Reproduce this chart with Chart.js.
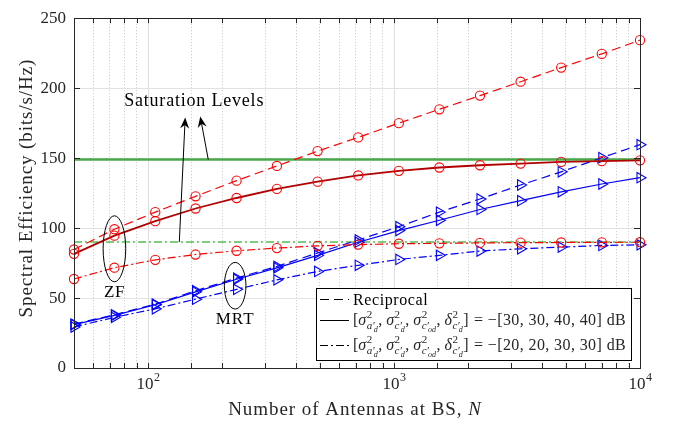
<!DOCTYPE html>
<html>
<head>
<meta charset="utf-8">
<script src="https://cdn.jsdelivr.net/npm/chart.js@4.4.0/dist/chart.umd.min.js"></script>
<style>
  html, body { margin: 0; padding: 0; background: #fff; }
  #wrap { width: 675px; height: 424px; }
</style>
</head>
<body>
<div id="wrap"><canvas id="myChart"></canvas></div>
<script>
// number of BS antennas (log spaced)
const antennas = [50, 73, 107, 156, 229, 334, 489, 715, 1046, 1529, 2236, 3270, 4782, 6993, 10000];

// ZF curves (red, circles)
const zfRecip = [84.7, 99.2, 111.4, 122.7, 133.9, 144.4, 155.0, 164.8, 175.0, 184.9, 194.7, 204.6, 214.7, 224.5, 234.3];
const zf30 = [81.6, 94.6, 104.9, 114.0, 121.5, 128.0, 133.2, 137.6, 140.9, 143.3, 144.9, 146.1, 147.3, 147.8, 148.4];
const zf20 = [63.6, 71.7, 77.3, 81.1, 83.8, 85.7, 87.3, 88.2, 88.8, 89.1, 89.4, 89.6, 89.7, 89.8, 89.9];

// MRT curves (blue, triangles)
const mrtRecip = [31.4, 38.0, 45.6, 55.2, 64.2, 72.6, 82.2, 91.5, 101.0, 111.4, 120.8, 130.8, 140.2, 150.3, 159.6];
const mrt30 = [31.0, 37.6, 45.2, 54.4, 63.4, 71.6, 80.5, 89.9, 98.2, 105.6, 113.3, 119.6, 125.9, 131.5, 136.0];
const mrt20 = [29.3, 36.2, 42.3, 49.2, 56.2, 63.0, 69.0, 73.4, 77.6, 80.5, 83.6, 85.2, 86.4, 87.6, 88.0];

// saturation levels
const satRange = [50, 10000];
const satHigh = [149, 149];
const satLow = [90, 90];

const xLabelTicks = [100, 1000, 10000];
const legendVals = ['30, 30, 40, 40', '20, 20, 30, 30'];

const fontFam = '"Liberation Serif", "Times New Roman", serif';
const ink = '#262626';

function pts(xs, ys) {
    return xs.map((x, i) => ({ x: x, y: ys[i] }));
}

function series(label, ys, line, marker, dash, style, width) {
    return {
        label: label,
        data: pts(antennas, ys),
        borderColor: line,
        borderWidth: width || 1.2,
        borderDash: dash,
        pointStyle: style,
        pointRadius: style === 'circle' ? 4.6 : 6,
        pointRotation: style === 'triangle' ? 90 : 0,
        pointBorderColor: marker,
        pointBackgroundColor: 'rgba(0,0,0,0)',
        pointBorderWidth: 1.1,
        fill: false,
        tension: 0,
        clip: false,
    };
}

const dashed = [9, 5];
const dashDot = [8, 3, 2, 3];

const datasets = [
    series('ZF reciprocal', zfRecip, '#ff0000', '#ff0000', dashed, 'circle'),
    series('ZF -30', zf30, '#b00000', '#ff0000', [], 'circle', 1.8),
    series('ZF -20', zf20, '#ff0000', '#ff0000', dashDot, 'circle'),
    series('MRT reciprocal', mrtRecip, '#0000ff', '#0000ff', dashed, 'triangle'),
    series('MRT -30', mrt30, '#0000ff', '#0000ff', [], 'triangle'),
    series('MRT -20', mrt20, '#0000ff', '#0000ff', dashDot, 'triangle'),
    {
        label: 'sat high', data: pts(satRange, satHigh), borderColor: '#4aa84a', borderWidth: 2.5,
        pointRadius: 0, fill: false,
    },
    {
        label: 'sat low', data: pts(satRange, satLow), borderColor: '#009a00', borderWidth: 1.1,
        borderDash: dashDot, pointRadius: 0, fill: false,
    },
];

function isPow10(v) {
    const l = Math.log10(v);
    return Math.abs(l - Math.round(l)) < 1e-9;
}

function txt(ctx, s, x, y, size, o) {
    o = o || {};
    ctx.save();
    ctx.font = (o.italic ? 'italic ' : '') + size + 'px ' + fontFam;
    ctx.letterSpacing = (o.ls || 0) + 'px';
    ctx.textAlign = o.align || 'left';
    ctx.textBaseline = o.base || 'alphabetic';
    ctx.fillStyle = o.color || ink;
    ctx.fillText(s, x, y);
    const w = ctx.measureText(s).width;
    ctx.restore();
    return w;
}

function arrow(ctx, x0, y0, x1, y1) {
    const a = Math.atan2(y1 - y0, x1 - x0);
    const L = 11, W = 4.5, N = 3.5;
    ctx.beginPath();
    ctx.moveTo(x0, y0);
    ctx.lineTo(x1 - Math.cos(a) * N, y1 - Math.sin(a) * N);
    ctx.stroke();
    const c = Math.cos(a), s = Math.sin(a);
    ctx.beginPath();
    ctx.moveTo(x1, y1);
    ctx.lineTo(x1 - c * L + s * W, y1 - s * L - c * W);
    ctx.lineTo(x1 - c * (L - N), y1 - s * (L - N));
    ctx.lineTo(x1 - c * L - s * W, y1 - s * L + c * W);
    ctx.closePath();
    ctx.fill();
}

const terms = [
    { b: 'σ', sub: 'a′', ss: 'd' },
    { b: 'σ', sub: 'c′', ss: 'd' },
    { b: 'σ', sub: 'c′', ss: 'od' },
    { b: 'δ', sub: 'c′', ss: 'd' },
];

function mathRow(ctx, x, y, vals) {
    const S = 16;
    let cx = x;
    cx += txt(ctx, '[', cx, y, S);
    terms.forEach((t, k) => {
        cx += txt(ctx, t.b, cx, y, S, { italic: true }) + 0.5;
        const w1 = txt(ctx, '2', cx, y - 7, 11);
        const w2 = txt(ctx, t.sub, cx, y + 4, 11, { italic: true });
        const w3 = txt(ctx, t.ss, cx + w2 - 1, y + 7, 8, { italic: true });
        cx += Math.max(w1, w2 - 1 + w3) + 0.5;
        if (k < terms.length - 1) cx += txt(ctx, ', ', cx, y, S);
    });
    cx += txt(ctx, ']', cx, y, S);
    txt(ctx, ' = −[' + vals + '] dB', cx + 1, y, S, { ls: 0.4 });
}

const decor = {
    id: 'decor',
    afterDatasetsDraw(chart) {
        const ctx = chart.ctx;
        const xs = chart.scales.x, ys = chart.scales.y;
        const X = v => xs.getPixelForValue(v), Y = v => ys.getPixelForValue(v);
        ctx.save();
        ctx.strokeStyle = '#000';
        ctx.fillStyle = '#000';
        ctx.lineWidth = 1;
        // ellipses
        ctx.beginPath();
        ctx.ellipse(X(73), Y(85.2), 11.3, 33, 0, 0, Math.PI * 2);
        ctx.stroke();
        ctx.beginPath();
        ctx.ellipse(X(226), Y(58.8), 10.8, 23.3, 0, 0, Math.PI * 2);
        ctx.stroke();
        txt(ctx, 'ZF', X(73), Y(53.6), 17, { align: 'center', base: 'middle', ls: 0.6, color: '#000' });
        txt(ctx, 'MRT', X(226), Y(34.9), 17, { align: 'center', base: 'middle', ls: 1, color: '#000' });
        // saturation arrows
        arrow(ctx, X(134), Y(90), X(141.6), Y(179));
        arrow(ctx, X(175.7), Y(149), X(163), Y(179.8));
        txt(ctx, 'Saturation Levels', X(154), Y(190.5), 18, { align: 'center', base: 'middle', ls: 0.8, color: '#000' });
        ctx.restore();
    },
    afterDraw(chart) {
        const ctx = chart.ctx;
        const a = chart.chartArea;
        const xs = chart.scales.x, ys = chart.scales.y;
        ctx.save();
        ctx.strokeStyle = ink;
        ctx.lineWidth = 1;
        // inward tick marks
        ctx.beginPath();
        xs.ticks.forEach(t => {
            const p = Math.round(xs.getPixelForValue(t.value)) + 0.5;
            ctx.moveTo(p, a.bottom); ctx.lineTo(p, a.bottom - 5);
            ctx.moveTo(p, a.top); ctx.lineTo(p, a.top + 5);
        });
        ys.ticks.forEach(t => {
            const p = Math.round(ys.getPixelForValue(t.value)) + 0.5;
            ctx.moveTo(a.left, p); ctx.lineTo(a.left + 6, p);
            ctx.moveTo(a.right, p); ctx.lineTo(a.right - 6, p);
        });
        ctx.stroke();
        // box
        ctx.strokeRect(Math.round(a.left) + 0.5, Math.round(a.top) + 0.5,
            Math.round(a.right - a.left), Math.round(a.bottom - a.top));

        // x tick labels with superscripts
        xLabelTicks.forEach(v => {
            const p = xs.getPixelForValue(v);
            const e = String(Math.round(Math.log10(v)));
            ctx.font = '17px ' + fontFam;
            const w0 = ctx.measureText('10').width;
            ctx.font = '12px ' + fontFam;
            const w1 = ctx.measureText(e).width;
            const x0 = p - (w0 + w1) / 2;
            txt(ctx, '10', x0, 389, 17);
            txt(ctx, e, x0 + w0 + 0.5, 381, 12);
        });

        // axis titles
        ctx.font = '19px ' + fontFam;
        ctx.letterSpacing = '0.95px';
        const tA = 'Number of Antennas at BS, ';
        const wA = ctx.measureText(tA).width;
        ctx.font = 'italic 19px ' + fontFam;
        const wB = ctx.measureText('N').width;
        ctx.letterSpacing = '0px';
        const cx = (a.left + a.right) / 2 - 2;
        txt(ctx, tA, cx - (wA + wB) / 2, 415, 19, { ls: 0.95 });
        txt(ctx, 'N', cx - (wA + wB) / 2 + wA, 415, 19, { italic: true });

        ctx.save();
        ctx.translate(31.5, (a.top + a.bottom) / 2 - 5);
        ctx.rotate(-Math.PI / 2);
        txt(ctx, 'Spectral Efficiency (bits/s/Hz)', 0, 0, 19, { align: 'center', ls: 0.9 });
        ctx.restore();

        // legend
        const lx = 316, ly = 288, lw = 315, lh = 72;
        ctx.fillStyle = '#fff';
        ctx.fillRect(lx, ly, lw, lh);
        ctx.strokeStyle = '#000';
        ctx.strokeRect(lx + 0.5, ly + 0.5, lw, lh);
        const rows = [299.5, 320.5, 345.5];
        const styles = [dashed, [], dashDot];
        styles.forEach((d, i) => {
            ctx.beginPath();
            ctx.setLineDash(d);
            ctx.moveTo(320, rows[i]);
            ctx.lineTo(349, rows[i]);
            ctx.stroke();
        });
        ctx.setLineDash([]);
        txt(ctx, 'Reciprocal', 353, 304.5, 16, { ls: 0.6, color: '#000' });
        mathRow(ctx, 353, 325, legendVals[0]);
        mathRow(ctx, 353, 349.5, legendVals[1]);
        ctx.restore();
    },
};

const ctx = document.getElementById('myChart');

new Chart(ctx, {
    type: 'line',
    data: { datasets: datasets },
    options: {
        responsive: true,
        maintainAspectRatio: false,
        animation: false,
        events: [],
        layout: { padding: { top: 12, right: 35, left: 0, bottom: 0 } },
        plugins: { legend: { display: false }, tooltip: { enabled: false } },
        scales: {
            x: {
                type: 'logarithmic',
                min: 50,
                max: 10000,
                afterFit: s => { s.height = 56; },
                ticks: { display: false },
                grid: {
                    color: c => (c.tick && isPow10(c.tick.value)) ? '#dedede' : '#c6c6c6',
                    lineWidth: 1,
                    drawTicks: false,
                },
                border: {
                    color: ink,
                    width: 1,
                    dash: c => (c.tick && !isPow10(c.tick.value)) ? [1, 2] : [],
                },
            },
            y: {
                min: 0,
                max: 250,
                afterFit: s => { s.width = 74; },
                ticks: {
                    stepSize: 50,
                    padding: 8,
                    color: ink,
                    font: { family: fontFam, size: 17 },
                },
                grid: { color: '#e2e2e2', lineWidth: 1, drawTicks: false },
                border: { color: ink, width: 1 },
            },
        },
    },
    plugins: [decor],
});
</script>
</body>
</html>
